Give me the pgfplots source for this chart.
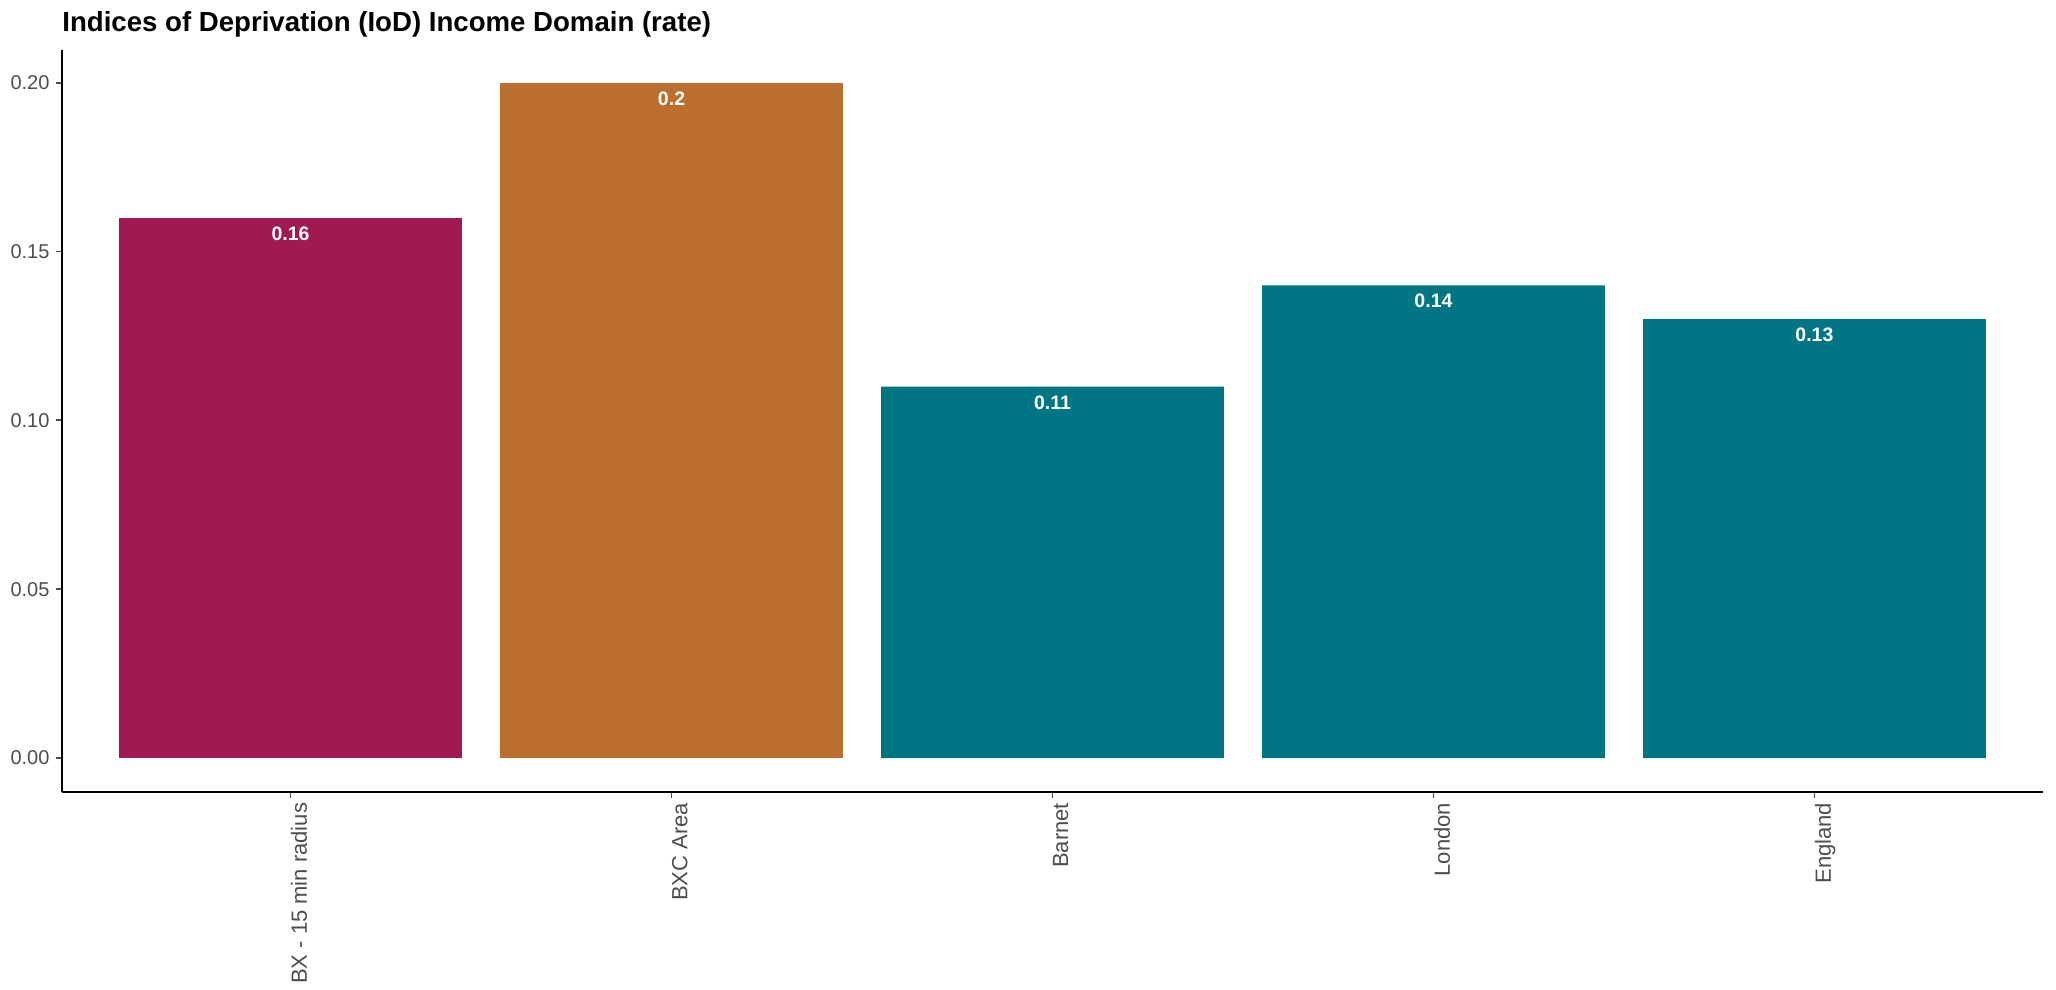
\documentclass[border=0pt]{standalone}
\usepackage{fontspec}
\setmainfont{Liberation Sans}
\usepackage{pgfplots}
\pgfplotsset{compat=1.18}
\definecolor{cMag}{HTML}{9E1A50}
\definecolor{cOra}{HTML}{BB6E2E}
\definecolor{cTeal}{HTML}{007685}
\definecolor{tickgray}{HTML}{4D4D4D}
\begin{document}
\begin{tikzpicture}
\path[use as bounding box] (-31bp,-99bp) rectangle (997bp,396bp);
\begin{axis}[
  at={(0,0)}, anchor=south west,
  scale only axis, width=990.5bp, height=371bp,
  xmin=0.4, xmax=5.6, ymin=-0.01007, ymax=0.2097,
  axis x line*=bottom, axis y line*=left,
  axis line style={line width=1.1bp, black},
  tick align=outside,
  major tick length=2.75bp,
  tick style={line width=0.9bp, color=tickgray},
  xtick={1,2,3,4,5},
  xticklabels={BX - 15 min radius, BXC Area, Barnet, London, England},
  xticklabel style={rotate=90, anchor=north east, inner xsep=2.5bp, inner ysep=0pt,
    font=\fontsize{11bp}{13bp}\selectfont, text=tickgray},
  ytick={0,0.05,0.1,0.15,0.2},
  yticklabel style={/pgf/number format/fixed, /pgf/number format/precision=2,
    /pgf/number format/fixed zerofill, /pgf/number format/assume math mode=true,
    font=\fontsize{10bp}{12bp}\selectfont, text=tickgray},
  clip=false,
  ybar, bar width=0.9, bar shift=0pt,
  point meta=explicit symbolic,
  nodes near coords={\pgfplotspointmeta},
  nodes near coords style={anchor=north, yshift=-4.25bp, inner sep=0pt, text=white,
    font=\fontsize{9.75bp}{11bp}\selectfont\bfseries},
]
\addplot[fill=cMag, draw=none] coordinates {(1,0.16) [0.16]};
\addplot[fill=cOra, draw=none] coordinates {(2,0.2) [0.2]};
\addplot[fill=cTeal, draw=none] coordinates {(3,0.11) [0.11] (4,0.14) [0.14] (5,0.13) [0.13]};
\node[anchor=base west, inner sep=0pt, font=\fontsize{13.8bp}{16bp}\selectfont\bfseries]
  at (rel axis cs:0,1) [yshift=9bp] {Indices of Deprivation (IoD) Income Domain (rate)};
\end{axis}
\end{tikzpicture}
\end{document}
